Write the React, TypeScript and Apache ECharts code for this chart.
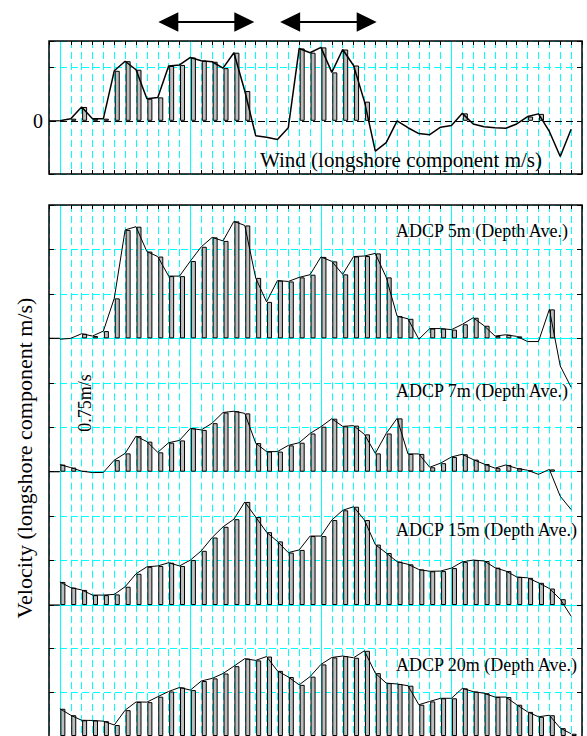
import React, { useEffect, useRef } from "react";
import * as echarts from "echarts";

// time axis (hours from start of day 1), one sample every 2 hours
const hours = [0, 2, 4, 6, 8, 10, 12, 14, 16, 18, 20, 22, 24, 26, 28, 30, 32, 34, 36, 38, 40, 42, 44, 46, 48, 50, 52, 54, 56, 58, 60, 62, 64, 66, 68, 70, 72, 74, 76, 78, 80, 82, 84, 86, 88, 90, 92, 94];
const dayLines = [0, 24, 48, 72];

// wind, longshore component (panel units; dashed grid line = 1)
const wind = [0, 0.04, 0.26, 0.04, 0.04, 0.94, 1.12, 0.96, 0.415, 0.44, 1.03, 1.05, 1.19, 1.13, 1.11, 0.99, 1.28, 0.56, -0.28, -0.31, -0.35, -0.13, 1.36, 1.28, 1.38, 0.91, 1.34, 1.04, 0.36, -0.57, -0.41, 0, -0.13, -0.24, -0.26, -0.12, -0.09, 0.14, -0.06, -0.11, -0.13, -0.14, -0.06, 0.08, 0.13, -0.2, -0.67, -0.16];

// ADCP depth-averaged longshore velocity (m/s)
const adcp5m = [-0.005, 0, 0.026, 0.013, 0.041, 0.225, 0.61, 0.628, 0.488, 0.46, 0.35, 0.35, 0.435, 0.515, 0.568, 0.548, 0.658, 0.635, 0.34, 0.205, 0.325, 0.32, 0.343, 0.358, 0.458, 0.433, 0.36, 0.46, 0.463, 0.478, 0.343, 0.125, 0.11, -0.005, 0.055, 0.055, 0.049, 0.079, 0.116, 0.071, 0.013, 0.02, 0.011, -0.018, -0.018, 0.163, -0.155, -0.275];
const adcp7m = [0.04, 0.023, 0.003, -0.005, -0.004, 0.065, 0.103, 0.2, 0.169, 0.109, 0.163, 0.176, 0.244, 0.235, 0.273, 0.333, 0.34, 0.328, 0.161, 0.113, 0.113, 0.148, 0.163, 0.215, 0.253, 0.298, 0.255, 0.259, 0.21, 0.103, 0.215, 0.3, 0.1, 0.1, 0.025, 0.048, 0.083, 0.098, 0.068, 0.043, 0.02, 0.038, 0.019, 0.008, -0.015, 0.013, -0.138, -0.213];
const adcp15m = [0.13, 0.098, 0.085, 0.056, 0.056, 0.06, 0.103, 0.176, 0.215, 0.22, 0.238, 0.22, 0.253, 0.305, 0.38, 0.44, 0.483, 0.58, 0.495, 0.41, 0.358, 0.295, 0.31, 0.388, 0.388, 0.478, 0.533, 0.553, 0.478, 0.34, 0.293, 0.244, 0.229, 0.2, 0.19, 0.191, 0.208, 0.243, 0.253, 0.248, 0.21, 0.191, 0.158, 0.153, 0.125, 0.093, 0.033, -0.063];
const adcp20m = [0.156, 0.119, 0.09, 0.089, 0.085, 0.063, 0.148, 0.195, 0.194, 0.225, 0.255, 0.278, 0.263, 0.315, 0.33, 0.358, 0.4, 0.443, 0.433, 0.455, 0.373, 0.338, 0.293, 0.34, 0.41, 0.45, 0.458, 0.448, 0.488, 0.36, 0.303, 0.298, 0.288, 0.179, 0.198, 0.216, 0.216, 0.273, 0.254, 0.245, 0.223, 0.223, 0.179, 0.138, 0.11, 0.119, 0.045, 0.013];

const adcpSeries = [
  { name: "ADCP 5m (Depth Ave.)", values: adcp5m },
  { name: "ADCP 7m (Depth Ave.)", values: adcp7m },
  { name: "ADCP 15m (Depth Ave.)", values: adcp15m },
  { name: "ADCP 20m (Depth Ave.)", values: adcp20m },
];

// periods marked by double arrows (hours)
const arrowPeriods = [
  [18.1, 35.75],
  [40.5, 58.25],
];

const windTitle = "Wind (longshore component m/s)";
const yTitle = "Velocity (longshore component m/s)";
const scaleLabel = "0.75m/s";

// layout / style
const X_MIN = -2;
const X_MAX = 96;
const LEFT = 49;
const WIDTH = 533;
const WIND_TOP = 41;
const WIND_H = 133;
const WIND_MIN = -1;
const WIND_MAX = 1.5;
const ADCP_TOP = 205;
const SUB_H = 133.35;
const CYAN = "#00ffff";
const DASH = [7, 4];
const FONT = "'Liberation Serif', 'Times New Roman', serif";
const BAR_FILL = "#bdbdbd";
const BAR_SHIFT = 0.55; // bars drawn just right of each sample line

const px = (h: number) => LEFT + ((h - X_MIN) / (X_MAX - X_MIN)) * WIDTH;

function buildOption() {
  const grid: any[] = [{ left: LEFT, top: WIND_TOP, width: WIDTH, height: WIND_H }];
  adcpSeries.forEach((_, k) => {
    grid.push({ left: LEFT, top: ADCP_TOP + k * SUB_H, width: WIDTH, height: SUB_H });
  });

  const tickStyle = { show: true, inside: true, length: 4, lineStyle: { color: "#000", width: 1 } };
  const xAxis: any[] = [];
  for (let g = 0; g < grid.length; g++) {
    xAxis.push({
      type: "value",
      gridIndex: g,
      position: "bottom",
      min: X_MIN,
      max: X_MAX,
      interval: 2,
      axisLine:
        g === 0
          ? { show: false, onZero: false }
          : { show: true, onZero: false, lineStyle: { color: CYAN, width: 1 } },
      axisTick: g === 0 ? tickStyle : { show: false },
      axisLabel: { show: false },
      splitLine: { show: true, lineStyle: { color: CYAN, type: DASH, width: 1 } },
    });
  }
  // top tick rows (wind panel and ADCP panel)
  [0, 1].forEach((g) => {
    xAxis.push({
      type: "value",
      gridIndex: g,
      position: "top",
      min: X_MIN,
      max: X_MAX,
      interval: 2,
      axisLine: { show: false, onZero: false },
      axisTick: tickStyle,
      axisLabel: { show: false },
      splitLine: { show: false },
    });
  });

  const yTick = { show: true, inside: true, length: 5, lineStyle: { color: "#000", width: 1 } };
  const yAxis: any[] = [
    {
      type: "value",
      gridIndex: 0,
      position: "left",
      min: WIND_MIN,
      max: WIND_MAX,
      interval: 1,
      axisLine: { show: false, onZero: false },
      axisTick: yTick,
      axisLabel: {
        show: true,
        formatter: (v: number) => (v === 0 ? "0" : ""),
        fontSize: 20,
        fontFamily: FONT,
        color: "#000",
        margin: 6,
      },
      splitLine: { show: true, lineStyle: { color: CYAN, type: DASH, width: 1 } },
    },
    {
      type: "value",
      gridIndex: 0,
      position: "right",
      min: WIND_MIN,
      max: WIND_MAX,
      interval: 1,
      axisLine: { show: false, onZero: false },
      axisTick: yTick,
      axisLabel: { show: false },
      splitLine: { show: false },
    },
  ];
  adcpSeries.forEach((_, k) => {
    yAxis.push({
      type: "value",
      gridIndex: k + 1,
      position: "left",
      min: 0,
      max: 0.75,
      interval: 0.25,
      axisLine: { show: false, onZero: false },
      axisTick: yTick,
      axisLabel: { show: false },
      splitLine: { show: true, lineStyle: { color: CYAN, type: DASH, width: 1 } },
    });
    yAxis.push({
      type: "value",
      gridIndex: k + 1,
      position: "right",
      min: 0,
      max: 0.75,
      interval: 0.25,
      axisLine: { show: false, onZero: false },
      axisTick: yTick,
      axisLabel: { show: false },
      splitLine: { show: false },
    });
  });

  const dayMarks = dayLines.map((d) => ({ xAxis: d, lineStyle: { color: CYAN, type: "solid", width: 1 } }));

  const series: any[] = [];
  const addPanel = (values: number[], xi: number, yi: number, lineWidth: number, extraMarks: any[]) => {
    series.push({
      type: "line",
      xAxisIndex: xi,
      yAxisIndex: yi,
      data: [],
      silent: true,
      markLine: {
        silent: true,
        symbol: ["none", "none"],
        label: { show: false },
        z: 1,
        data: [...dayMarks, ...extraMarks],
      },
    });
    series.push({
      type: "bar",
      xAxisIndex: xi,
      yAxisIndex: yi,
      barWidth: 5,
      z: 2,
      itemStyle: { color: BAR_FILL, borderColor: "#000", borderWidth: 1 },
      data: hours.map((h, i) => [h + BAR_SHIFT, values[i]]).filter((d) => d[1] > 0),
    });
    series.push({
      type: "line",
      xAxisIndex: xi,
      yAxisIndex: yi,
      symbol: "none",
      clip: false,
      z: 3,
      lineStyle: { color: "#000", width: lineWidth },
      data: hours.map((h, i) => [h, values[i]]),
    });
  };
  addPanel(wind, 0, 0, 1.5, [{ yAxis: 0, lineStyle: { color: "#000", type: DASH, width: 1 } }]);
  adcpSeries.forEach((s, k) => addPanel(s.values, k + 1, 2 + 2 * k, 1, []));

  const graphic: any[] = [];
  const txt = (text: string, x: number, y: number, size: number, align: string, rotation = 0) => ({
    type: "text",
    x,
    y,
    rotation,
    z: 20,
    style: {
      text,
      fontSize: size,
      fontFamily: FONT,
      fill: "#000",
      align,
      verticalAlign: "middle",
      textAlign: align,
      textVerticalAlign: "middle",
    },
  });
  // frames
  graphic.push({
    type: "rect",
    z: 15,
    shape: { x: LEFT, y: WIND_TOP, width: WIDTH, height: WIND_H },
    style: { fill: "none", stroke: "#000", lineWidth: 1.5 },
  });
  graphic.push({
    type: "rect",
    z: 15,
    shape: { x: LEFT, y: ADCP_TOP, width: WIDTH, height: SUB_H * adcpSeries.length },
    style: { fill: "none", stroke: "#000", lineWidth: 1.5 },
  });
  // zero-level lead segments
  const zeroYs = [WIND_TOP + (WIND_H * WIND_MAX) / (WIND_MAX - WIND_MIN)];
  adcpSeries.forEach((_, k) => zeroYs.push(ADCP_TOP + (k + 1) * SUB_H));
  zeroYs.forEach((y) =>
    graphic.push({
      type: "line",
      z: 15,
      shape: { x1: LEFT, y1: y, x2: px(0), y2: y },
      style: { stroke: "#000", lineWidth: 1.2 },
    })
  );
  // arrows
  const AY = 22;
  arrowPeriods.forEach(([a, b]) => {
    const x1 = px(a);
    const x2 = px(b);
    graphic.push({
      type: "line",
      shape: { x1: x1 + 10, y1: AY, x2: x2 - 10, y2: AY },
      style: { stroke: "#000", lineWidth: 2.2 },
    });
    graphic.push({
      type: "polygon",
      shape: { points: [[x1, AY], [x1 + 20, AY - 9.7], [x1 + 20, AY + 9.7]] },
      style: { fill: "#000" },
    });
    graphic.push({
      type: "polygon",
      shape: { points: [[x2, AY], [x2 - 20, AY - 9.7], [x2 - 20, AY + 9.7]] },
      style: { fill: "#000" },
    });
  });
  // texts
  graphic.push(txt(windTitle, 260, 160, 21, "left"));
  const labelYs = [231, 391, 530, 665];
  adcpSeries.forEach((s, k) => graphic.push(txt(s.name, 396, labelYs[k], 18, "left")));
  graphic.push(txt(yTitle, 24, 458, 22, "center", Math.PI / 2));
  graphic.push(txt(scaleLabel, 85, 403, 18, "center", Math.PI / 2));

  return {
    animation: false,
    backgroundColor: "#ffffff",
    grid,
    xAxis,
    yAxis,
    series,
    graphic,
  };
}

export default function App() {
  const ref = useRef<HTMLDivElement>(null);
  useEffect(() => {
    document.body.style.margin = "0";
    const chart = echarts.init(ref.current!, null, { renderer: "svg" });
    chart.setOption(buildOption() as any);
    return () => chart.dispose();
  }, []);
  return (
    <div
      ref={ref}
      style={{ position: "fixed", left: 0, top: 0, width: 587, height: 736, background: "#fff" }}
    />
  );
}
